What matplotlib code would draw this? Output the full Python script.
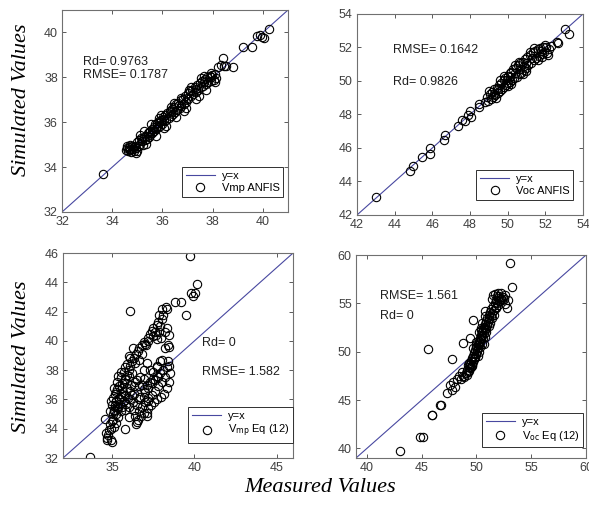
import numpy as np
import matplotlib.pyplot as plt

plt.rcParams['font.family'] = ['Liberation Sans', 'DejaVu Sans']

# ---------------- datos ----------------
# Vmp ANFIS (medido, simulado)
vmp_anfis_x = [33.65,
    34.55, 34.60, 34.62, 34.68, 34.70, 34.75, 34.78, 34.82, 34.85, 34.90, 34.95, 35.00, 35.00, 35.05,
    35.08, 35.12, 35.15, 35.20, 35.22, 35.28, 35.30, 35.35, 35.38, 35.42, 35.45, 35.50, 35.52, 35.58,
    35.60, 35.65, 35.68, 35.72, 35.75, 35.80, 35.82, 35.88, 35.90, 35.95, 36.00, 36.02, 36.08, 36.12,
    36.15, 36.20, 36.25, 36.30, 36.32, 36.38, 36.40, 36.45, 36.50, 36.55, 36.58, 36.62, 36.68, 36.72,
    36.75, 36.80, 36.85, 36.90, 36.95, 37.00, 37.02, 37.08, 37.12, 37.18, 37.22, 37.28, 37.32, 37.38,
    37.42, 37.48, 37.52, 37.58, 37.62, 37.68, 37.72, 37.78, 37.82, 37.88, 37.92, 37.98, 38.05, 38.10,
    38.15, 34.65, 34.88, 35.18, 35.48, 35.78, 36.05, 36.35, 36.65, 36.98, 37.35, 37.65, 37.95,
    34.70, 34.95, 35.10, 35.35, 35.55, 35.75, 35.95, 36.15, 36.35, 36.55, 36.75, 36.95, 37.15, 37.35,
    37.55, 37.75, 37.95, 38.10, 34.60, 35.25, 35.85, 36.45, 37.05, 37.65, 36.05, 36.85, 37.45,
    38.20, 38.35, 38.40, 38.45, 38.55, 38.80, 39.20, 39.55, 39.78, 39.88, 39.95, 40.05, 40.25]
vmp_anfis_y = [33.70,
    34.75, 34.85, 34.70, 34.90, 34.78, 34.68, 34.95, 34.80, 34.72, 34.95, 34.85, 34.70, 35.10, 34.95,
    35.20, 35.05, 35.30, 35.15, 35.00, 35.35, 35.20, 35.40, 35.25, 35.50, 35.35, 35.60, 35.45, 35.70,
    35.50, 35.80, 35.62, 35.90, 35.70, 35.95, 35.78, 36.05, 35.85, 36.10, 35.92, 36.25, 36.05, 36.30,
    36.10, 36.40, 36.20, 36.50, 36.28, 36.60, 36.35, 36.70, 36.45, 36.80, 36.55, 36.85, 36.65, 37.00,
    36.72, 37.05, 36.82, 37.15, 36.90, 37.30, 37.05, 37.40, 37.15, 37.45, 37.25, 37.55, 37.35, 37.65,
    37.45, 37.75, 37.55, 37.85, 37.62, 37.92, 37.70, 38.00, 37.78, 38.05, 37.85, 38.10, 37.90, 38.15,
    37.95, 34.80, 34.90, 35.25, 35.55, 35.85, 36.15, 36.45, 36.75, 37.10, 37.50, 37.80, 38.00,
    35.00, 34.65, 35.45, 35.05, 35.90, 35.40, 36.30, 35.85, 36.70, 36.25, 37.10, 36.65, 37.55, 37.05,
    37.95, 37.45, 38.20, 37.80, 34.95, 35.60, 36.20, 36.85, 37.45, 38.05, 35.75, 36.50, 37.15,
    38.45, 38.55, 38.85, 38.50, 38.50, 38.45, 39.35, 39.35, 39.85, 39.90, 39.80, 39.75, 40.15]

# Voc ANFIS (medido, simulado)
voc_anfis_x = [43.00, 44.80, 45.00, 45.45, 45.85, 45.90, 46.60, 46.65, 47.35, 47.60, 47.75, 47.90,
    48.00, 48.05, 48.50, 48.50,
    48.80, 48.90, 48.95, 49.05, 49.10, 49.18, 49.22, 49.30, 49.35, 49.42, 49.48, 49.55, 49.60, 49.66,
    49.70, 49.78, 49.82, 49.88, 49.92, 50.00, 50.02, 50.10, 50.12, 50.20, 50.25, 50.30, 50.35, 50.42,
    50.48, 50.55, 50.60, 50.68, 50.72, 50.80, 50.85, 50.92, 50.98, 51.05, 51.10, 51.18, 51.25, 51.32,
    51.38, 51.45, 51.52, 51.60, 51.65, 51.72, 51.80, 51.88, 51.95, 52.05, 52.10, 52.20, 52.30,
    49.50, 49.95, 50.40, 50.85, 51.30, 51.75, 50.15, 50.65, 49.25, 51.00,
    49.00, 49.40, 49.80, 50.20, 50.60, 51.00, 51.40, 51.80, 50.40, 50.80, 49.60, 51.20, 50.00, 51.60,
    52.00, 52.15,
    52.60, 52.65, 53.05, 53.25]
voc_anfis_y = [43.05, 44.65, 44.95, 45.45, 45.65, 46.00, 46.45, 46.80, 47.30, 47.70, 47.60, 47.95,
    48.20, 47.85, 48.45, 48.65,
    48.75, 49.05, 48.80, 49.20, 48.95, 49.35, 49.05, 49.50, 49.15, 49.60, 49.30, 49.75, 49.40, 49.90,
    49.50, 50.05, 49.62, 50.15, 49.75, 50.30, 49.85, 50.45, 49.95, 50.55, 50.05, 50.70, 50.15, 50.80,
    50.25, 50.95, 50.40, 51.05, 50.50, 51.15, 50.65, 51.30, 50.80, 51.45, 50.95, 51.55, 51.10, 51.70,
    51.25, 51.80, 51.40, 51.90, 51.50, 51.95, 51.60, 52.00, 51.70, 52.05, 51.65, 51.90, 52.10,
    49.55, 50.05, 50.45, 50.90, 51.35, 51.80, 50.25, 50.70, 49.25, 51.05,
    49.40, 49.00, 50.30, 49.80, 51.15, 50.60, 51.95, 51.45, 50.95, 50.40, 50.05, 51.75, 49.70, 51.25,
    52.15, 51.55,
    52.30, 52.25, 53.10, 52.80]

# Vmp Eq (12) (medido, simulado)
vmp_eq_x = [33.64,
    34.55, 34.60, 34.65, 34.70, 34.72, 34.78, 34.85, 34.90, 34.95, 35.00, 35.02, 35.05, 35.10, 35.15,
    35.20, 35.30, 35.40, 35.50, 35.60, 35.70, 35.80, 35.90, 36.00, 36.10, 36.20, 36.30, 36.45, 36.55,
    36.65, 36.80, 36.95, 37.05, 37.15, 37.30, 37.40, 37.50, 37.60, 37.70, 37.80, 37.90, 38.00, 38.10,
    38.25, 38.35, 37.65, 37.85, 37.95, 38.20, 38.30,
    38.40, 38.45, 38.50, 38.20, 38.00, 37.80, 37.60, 37.40, 37.20, 37.00, 36.80, 36.60, 36.40, 36.50,
    36.70, 36.90, 37.10, 37.30, 37.50, 37.70, 37.90, 38.10, 38.30, 38.45, 38.35, 38.15, 37.95, 37.75,
    37.55, 37.35, 37.15, 36.95, 36.75, 36.55, 36.45, 37.10,
    35.00, 35.05, 35.10, 35.15, 35.20, 35.25, 35.30, 35.35, 35.40, 35.45, 35.50, 35.55, 35.60, 35.65,
    35.70, 35.75, 35.80, 35.85, 35.90, 35.95, 36.00, 36.05, 36.10, 36.15, 36.20, 36.25, 36.30, 36.35,
    36.40, 35.30, 35.50, 35.70, 35.90, 36.10, 35.20, 35.40, 35.60, 35.80, 36.00, 36.20, 36.50, 36.60,
    36.70, 36.80, 36.90, 37.00, 37.20, 37.40, 37.60, 37.80,
    35.10, 35.35, 35.55, 35.80, 36.00, 36.25, 36.40, 36.60, 36.80, 37.00, 37.20, 37.50, 37.70, 37.85,
    38.00, 36.90, 37.10, 37.30, 37.50, 37.70, 37.90, 38.05, 38.20, 38.45, 36.30, 36.00, 36.60, 36.90,
    37.20,
    34.90, 34.85, 35.00, 35.10, 35.20, 35.35, 35.77, 36.48, 37.09,
    39.73, 40.14, 39.77, 39.93, 40.03, 38.82, 39.16, 39.49, 36.08, 38.41, 37.70, 38.45]
vmp_eq_y = [32.10,
    34.65, 33.70, 33.35, 33.20, 33.55, 33.90, 34.30, 34.00, 33.25, 33.10, 34.60, 35.00, 35.30, 35.60,
    35.90, 35.50, 36.10, 36.40, 36.80, 37.10, 37.40, 37.70, 38.00, 38.30, 38.60, 38.80, 39.10, 39.30,
    39.50, 39.70, 39.90, 39.70, 40.20, 40.50, 40.70, 40.90, 40.60, 41.10, 41.30, 41.00, 41.50, 41.80,
    42.30, 42.20, 40.40, 40.60, 40.20, 40.60, 40.90,
    38.60, 38.30, 37.80, 37.50, 37.20, 36.90, 36.60, 36.30, 36.10, 35.80, 35.50, 35.20, 34.90, 35.60,
    36.20, 36.70, 37.00, 37.20, 37.40, 37.60, 37.80, 38.00, 38.20, 37.20, 36.80, 36.40, 36.20, 36.00,
    35.80, 35.60, 35.40, 35.10, 34.90, 34.60, 34.30, 34.90,
    35.60, 36.10, 35.20, 36.40, 35.00, 35.90, 36.70, 35.40, 36.00, 35.70, 35.20, 36.20, 35.50, 36.50,
    35.90, 35.30, 36.30, 35.70, 36.80, 36.10, 35.50, 36.60, 36.00, 37.00, 36.30, 35.80, 36.90, 36.40,
    37.20, 37.20, 37.50, 37.90, 38.40, 38.80, 36.50, 36.90, 37.10, 37.40, 37.60, 37.80, 37.30, 36.90,
    37.50, 37.00, 37.40, 36.50, 36.80, 37.10, 37.30, 37.50,
    36.80, 37.60, 37.90, 38.20, 39.00, 39.50, 38.50, 38.70, 39.10, 39.80, 40.00, 40.30, 40.10, 41.80,
    42.20, 38.00, 38.50, 38.00, 37.90, 38.30, 38.60, 38.70, 39.50, 39.60, 35.30, 34.80, 36.00, 36.20,
    35.90,
    35.90, 35.20, 34.50, 34.10, 34.40, 34.80, 33.98, 34.48, 35.05,
    45.80, 43.86, 43.25, 43.06, 43.25, 42.67, 42.67, 41.77, 42.04, 39.72, 38.20, 40.40]

# Voc Eq (12) (medido, simulado)
voc_eq_x = [43.00, 44.85, 45.15, 45.90, 45.92, 46.70, 46.72, 47.28, 47.74, 48.04, 47.60, 47.90,
    48.20, 48.45, 48.70, 45.55, 47.74, 49.71, 49.40, 48.80, 50.78, 53.06, 53.20,
    48.60, 48.80, 48.90, 49.00, 49.10, 49.15, 49.20, 49.30, 49.35, 49.40, 49.45, 49.50, 49.55, 49.60,
    49.65, 49.70, 49.75, 49.80, 49.85, 49.90, 49.95, 50.00, 50.05, 50.10, 50.15, 50.20, 50.25, 50.30,
    50.35, 50.40, 50.45, 50.50, 50.55, 50.60, 50.65, 50.70, 50.75, 50.80, 50.85, 50.90, 50.95, 51.00,
    51.05, 51.10, 51.15, 51.20, 51.30, 51.35, 51.45, 51.50, 51.60, 51.65, 51.75, 51.80, 51.90, 51.95,
    52.05, 52.10, 52.20, 52.25, 52.40, 52.55, 52.60, 52.65, 51.55, 51.70, 51.40, 52.76, 52.86,
    49.60, 49.90, 50.20, 50.50, 50.80, 49.30, 50.00, 50.40,
    49.20, 49.50, 49.80, 50.10, 50.30, 50.60, 50.70, 50.90, 51.10, 51.25, 51.40, 51.60, 51.80, 52.00,
    52.30, 50.20, 50.40, 50.55, 50.80, 49.95, 49.70, 52.00, 51.85]
voc_eq_y = [39.74, 41.15, 41.15, 43.50, 43.45, 44.50, 44.45, 45.76, 46.00, 46.35, 46.60, 46.90,
    47.20, 47.50, 47.90, 50.27, 49.24, 53.24, 51.46, 50.90, 54.20, 59.20, 56.70,
    47.20, 47.50, 47.40, 47.80, 47.60, 48.10, 47.90, 48.40, 48.00, 48.70, 48.30, 49.00, 48.60, 49.30,
    48.90, 49.60, 49.20, 49.90, 49.50, 50.20, 49.80, 50.50, 50.10, 50.80, 50.40, 51.10, 50.70, 51.40,
    51.00, 51.70, 51.30, 52.00, 51.60, 52.30, 51.90, 52.60, 52.20, 52.90, 52.50, 53.20, 52.80, 53.50,
    53.10, 53.80, 53.40, 54.10, 53.70, 54.40, 54.00, 54.70, 54.30, 55.00, 54.60, 55.30, 55.00, 55.60,
    55.20, 55.80, 55.50, 56.10, 55.70, 55.40, 55.90, 54.90, 55.90, 56.00, 55.40, 54.54, 55.35,
    48.50, 49.40, 50.00, 50.80, 51.50, 48.80, 50.70, 52.20,
    48.60, 48.40, 49.20, 49.60, 50.50, 51.40, 50.80, 52.00, 52.70, 53.00, 53.50, 53.80, 54.50, 54.80,
    55.30, 52.00, 52.50, 53.00, 53.70, 51.00, 50.40, 56.10, 55.80]

# limites y ticks de cada panel
lims = [(32, 41), (42, 54), (32, 46), (39, 60)]
ticks = [[32, 34, 36, 38, 40], [42, 44, 46, 48, 50, 52, 54],
         [32, 34, 36, 38, 40, 42, 44, 46], [40, 45, 50, 55, 60]]
xticks = [[32, 34, 36, 38, 40], [42, 44, 46, 48, 50, 52, 54],
          [35, 40, 45], [40, 45, 50, 55, 60]]
etiquetas = ['Vmp ANFIS', 'Voc ANFIS', r'V$_{\mathrm{mp}}$ Eq (12)', r'V$_{\mathrm{oc}}$ Eq (12)']
textos = [[('Rd= 0.9763', 0.093, 0.743), ('RMSE= 0.1787', 0.093, 0.678)],
          [('RMSE= 0.1642', 0.16, 0.82), ('Rd= 0.9826', 0.16, 0.66)],
          [('Rd= 0', 0.603, 0.56), ('RMSE= 1.582', 0.603, 0.42)],
          [('RMSE= 1.561', 0.104, 0.80), ('Rd= 0', 0.104, 0.70)]]
datos = [(vmp_anfis_x, vmp_anfis_y), (voc_anfis_x, voc_anfis_y),
         (vmp_eq_x, vmp_eq_y), (voc_eq_x, voc_eq_y)]

posiciones = [[0.1053, 0.5827, 0.3837, 0.3976], [0.6061, 0.5768, 0.3837, 0.3957],
              [0.1070, 0.0984, 0.3905, 0.4035], [0.6044, 0.0984, 0.3905, 0.3996]]
leg_anchor = [(0.979, 0.076), (0.957, 0.075), (0.999, 0.072), (0.988, 0.056)]

fig = plt.figure(figsize=(5.89, 5.08), dpi=100)
gris = '#404040'
for i in range(4):
    ax = fig.add_axes(posiciones[i])
    lo, hi = lims[i]
    ax.plot([lo, hi], [lo, hi], color='#4848a0', lw=0.8, label='y=x')
    ax.plot(datos[i][0], datos[i][1], 'o', mfc='none', mec='black', ms=6, mew=0.8,
            label=etiquetas[i])
    ax.set_xlim(lo, hi)
    ax.set_ylim(lo, hi)
    ax.set_xticks(xticks[i])
    ax.set_yticks(ticks[i])
    ax.tick_params(direction='in', top=True, right=True, length=3, width=0.6,
                   labelsize=9, colors=gris, pad=3)
    for s in ax.spines.values():
        s.set_color('#707070')
        s.set_linewidth(0.8)
    for t, xf, yf in textos[i]:
        ax.text(xf, yf, t, transform=ax.transAxes, fontsize=9, color='#202020', va='center')
    leg = ax.legend(loc='lower right', bbox_to_anchor=leg_anchor[i], fontsize=8,
                    fancybox=False, framealpha=1, edgecolor='#303030', borderpad=0.35,
                    handlelength=2.6, handletextpad=0.6, labelspacing=0.2, borderaxespad=0)
    leg.get_frame().set_linewidth(0.7)

serif = ['Liberation Serif', 'DejaVu Serif']
fig.text(0.037, 0.803, 'Simulated Values', rotation=90, ha='center', va='center',
         fontsize=16, style='italic', family=serif)
fig.text(0.037, 0.297, 'Simulated Values', rotation=90, ha='center', va='center',
         fontsize=16, style='italic', family=serif)
fig.text(0.543, 0.04, 'Measured Values', ha='center', va='center',
         fontsize=16, style='italic', family=serif)

fig.savefig('out.png', dpi=100)
